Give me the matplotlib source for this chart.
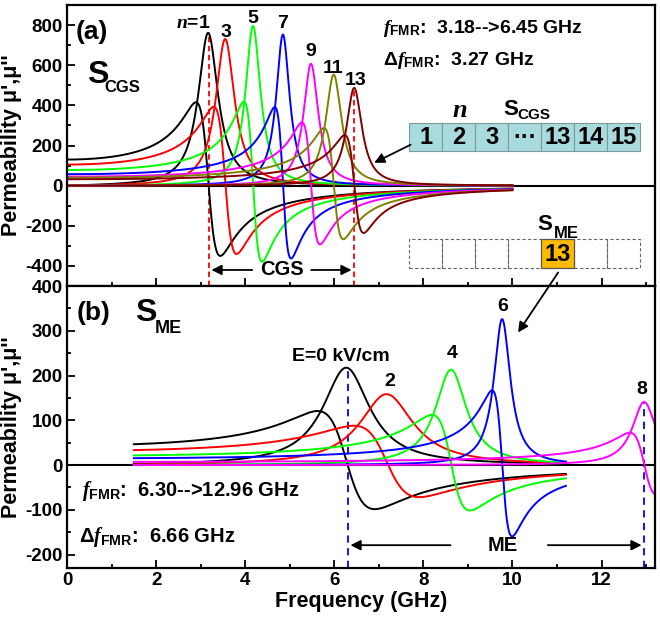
import numpy as np
import matplotlib
matplotlib.use('Agg')
import matplotlib.pyplot as plt
from matplotlib.patches import Rectangle
from matplotlib.ticker import MultipleLocator

plt.rcParams['font.family'] = ['Liberation Sans', 'DejaVu Sans']
plt.rcParams['font.weight'] = 'bold'
plt.rcParams['axes.unicode_minus'] = False
plt.rcParams['mathtext.fontset'] = 'custom'
plt.rcParams['mathtext.rm'] = 'Liberation Sans:bold'
plt.rcParams['mathtext.bf'] = 'Liberation Sans:bold'
plt.rcParams['mathtext.it'] = 'Liberation Serif:italic:bold'

# (a) S_CGS : cell index n, resonance freq (GHz), peak of mu'', static mu'
cgs_n = ['n=1', '3', '5', '7', '9', '11', '13']
cgs_fr = [3.18, 3.56, 4.18, 4.85, 5.48, 5.99, 6.45]
cgs_peak = [760, 730, 795, 753, 607, 553, 487]
cgs_static = [130, 105, 78, 57, 45, 40, 32]
cgs_colors = ['black', 'red', '#00ff00', 'blue', 'magenta', '#808000', '#800000']

# (b) S_ME : electric field (kV/cm)
me_E = ['E=0 kV/cm', '2', '4', '6', '8']
me_fr = [6.30, 7.21, 8.63, 9.77, 12.96]
me_peak = [217, 158, 213, 326, 141]
me_static = [44, 32, 21, 15, 7]
me_fmax = [11.2, 11.2, 11.2, 11.2, 13.2]
me_colors = ['black', 'red', '#00ff00', 'blue', 'magenta']

cell_labels = ['1', '2', '3', '\u00b7\u00b7\u00b7', '13', '14', '15']


def spectrum(f, fr, peak, static):
    # Lorentzian permeability, width set by the read peak / static values
    g = static * fr / peak
    d = fr ** 2 - f ** 2
    den = d ** 2 + (f * g) ** 2
    return static * fr ** 2 * d / den, static * fr ** 2 * f * g / den


fig = plt.figure(figsize=(6.6, 6.18), dpi=100)
ax1 = fig.add_axes([0.1015, 0.5372, 0.891, 0.4547])
ax2 = fig.add_axes([0.1015, 0.0809, 0.891, 0.4563])

for ax in (ax1, ax2):
    ax.set_xlim(0, 13.2)
    ax.xaxis.set_major_locator(MultipleLocator(2))
    ax.xaxis.set_minor_locator(MultipleLocator(1))
    ax.tick_params(which='both', direction='in', width=1.3, labelsize=13.5, pad=3)
    ax.tick_params(which='major', length=6)
    ax.tick_params(which='minor', length=3)
    for s in ax.spines.values():
        s.set_linewidth(1.6)
    ax.axhline(0, color='black', lw=1.5, zorder=1)
    ax.set_ylabel("Permeability \u03bc',\u03bc''", fontsize=15.5, fontweight='bold')
    ax.yaxis.set_label_coords(-0.077, 0.5)

ax1.set_ylim(-500, 900)
ax1.yaxis.set_minor_locator(MultipleLocator(100))
ax1.tick_params(labelbottom=False)
ax1.set_yticks([-400, -200, 0, 200, 400, 600, 800])

ax2.set_ylim(-230, 400)
ax2.yaxis.set_major_locator(MultipleLocator(100))
ax2.yaxis.set_minor_locator(MultipleLocator(50))
ax2.set_xlabel('Frequency (GHz)', fontsize=15.5, fontweight='bold', labelpad=1)

# ---- panel (a)
f = np.linspace(0, 10, 2000)
for fr, pk, st, c in zip(cgs_fr, cgs_peak, cgs_static, cgs_colors):
    re, im = spectrum(f, fr, pk, st)
    ax1.plot(f, re, color=c, lw=1.4)
    ax1.plot(f, im, color=c, lw=1.4)

label_pos_a = [(2.83, 810), (3.56, 762), (4.18, 833), (4.85, 808), (5.48, 667), (5.98, 585), (6.49, 525)]
for lab, (x, y) in zip(cgs_n, label_pos_a):
    if lab.startswith('n='):
        lab = r'$\mathit{n}$=1'
    ax1.text(x, y, lab, fontsize=14, fontweight='bold', ha='center', va='center')

ax1.vlines([cgs_fr[0], cgs_fr[-1]], -500, [cgs_peak[0], cgs_peak[-1]], colors='red',
           linestyles=(0, (3, 2)), lw=1.3, zorder=0)

ax1.text(0.2, 765, '(a)', fontsize=19, fontweight='bold', va='center')
ax1.text(0.45, 550, 'S', fontsize=23, fontweight='bold', va='center')
ax1.text(0.83, 490, 'CGS', fontsize=12, fontweight='bold', va='center')

ax1.text(7.09, 785, r'$\mathit{f}_{\mathrm{FMR}}$:  %.2f-->%.2f GHz' % (cgs_fr[0], cgs_fr[-1]),
         fontsize=14, fontweight='bold', va='center')
ax1.text(7.09, 625, '\u0394' + r'$\mathit{f}_{\mathrm{FMR}}$:  %.2f GHz' % (cgs_fr[-1] - cgs_fr[0]),
         fontsize=14, fontweight='bold', va='center')

# CGS range arrows
ax1.annotate('', xy=(cgs_fr[0], -420), xytext=(4.22, -420),
             arrowprops=dict(arrowstyle='-|>', color='black', lw=1.3, mutation_scale=15))
ax1.annotate('', xy=(cgs_fr[-1], -420), xytext=(5.42, -420),
             arrowprops=dict(arrowstyle='-|>', color='black', lw=1.3, mutation_scale=15))
ax1.text(4.82, -420, 'CGS', fontsize=14.5, fontweight='bold', ha='center', va='center')

# S_CGS cell diagram
edges = np.linspace(7.68, 12.87, 8)
for i, lab in enumerate(cell_labels):
    ax1.add_patch(Rectangle((edges[i], 175), edges[i + 1] - edges[i], 136.5,
                            facecolor='#a9dadd', edgecolor='#7a9a9c', lw=0.8, zorder=3))
    ax1.text((edges[i] + edges[i + 1]) / 2, 240, lab, fontsize=17, fontweight='bold',
             ha='center', va='center', zorder=4)
ax1.text(8.82, 375, r'$\mathit{n}$', fontsize=19, ha='center', va='center')
ax1.text(9.79, 378, 'S', fontsize=16, fontweight='bold', va='center')
ax1.text(10.12, 350, 'CGS', fontsize=11, fontweight='bold', va='center')
ax1.annotate('', xy=(6.84, 108), xytext=(7.77, 210),
             arrowprops=dict(arrowstyle='-|>', color='black', lw=1.3, mutation_scale=15))

# S_ME cell diagram
for i in range(7):
    if i == 4:
        ax1.add_patch(Rectangle((edges[i], -411.5), edges[i + 1] - edges[i], 145,
                                facecolor='#ffbb00', edgecolor='#555555', lw=0.9, zorder=4))
        ax1.text((edges[i] + edges[i + 1]) / 2, -342, '13', fontsize=17, fontweight='bold',
                 ha='center', va='center', zorder=5)
    else:
        ax1.add_patch(Rectangle((edges[i], -411.5), edges[i + 1] - edges[i], 145,
                                facecolor='none', edgecolor='#666666', lw=0.8,
                                linestyle=(0, (3, 2)), zorder=3))
ax1.text(10.55, -195, 'S', fontsize=16, fontweight='bold', va='center')
ax1.text(10.92, -236, 'ME', fontsize=12, fontweight='bold', va='center')

# ---- panel (b)
for fr, pk, st, fm, c in zip(me_fr, me_peak, me_static, me_fmax, me_colors):
    fb = np.linspace(1.5, fm, 2000)
    re, im = spectrum(fb, fr, pk, st)
    ax2.plot(fb, re, color=c, lw=1.4)
    ax2.plot(fb, im, color=c, lw=1.4)

label_pos_b = [(6.15, 243), (7.25, 187), (8.65, 249), (9.77, 354), (12.91, 169)]
for lab, (x, y) in zip(me_E, label_pos_b):
    ax2.text(x, y, lab, fontsize=14, fontweight='bold', ha='center', va='center')

ax2.vlines([me_fr[0], me_fr[-1]], -230, [me_peak[0], me_peak[-1]], colors='blue',
           linestyles=(0, (4, 3)), lw=1.3, zorder=0)

ax2.text(0.22, 339, '(b)', fontsize=19, fontweight='bold', va='center')
ax2.text(1.53, 339, 'S', fontsize=23, fontweight='bold', va='center')
ax2.text(1.98, 306, 'ME', fontsize=13, fontweight='bold', va='center')

ax2.text(0.33, -57, r'$\mathit{f}_{\mathrm{FMR}}$:  %.2f-->%.2f GHz' % (me_fr[0], me_fr[-1]),
         fontsize=14.5, fontweight='bold', va='center')
ax2.text(0.27, -160, '\u0394' + r'$\mathit{f}_{\mathrm{FMR}}$:  %.2f GHz' % (me_fr[-1] - me_fr[0]),
         fontsize=14.5, fontweight='bold', va='center')

ax2.annotate('', xy=(me_fr[0], -179), xytext=(8.67, -179),
             arrowprops=dict(arrowstyle='-|>', color='black', lw=1.3, mutation_scale=15))
ax2.annotate('', xy=(me_fr[-1], -179), xytext=(10.73, -179),
             arrowprops=dict(arrowstyle='-|>', color='black', lw=1.3, mutation_scale=15))
ax2.text(9.79, -179, 'ME', fontsize=14.5, fontweight='bold', ha='center', va='center')

# arrow from the ME cell down into panel (b)
ax2.annotate('', xy=(10.09, 291), xytext=(11.06, -421), textcoords=ax1.transData,
             arrowprops=dict(arrowstyle='-|>', color='black', lw=1.3, mutation_scale=15),
             annotation_clip=False)

plt.savefig('out.png', dpi=100)
plt.close()
